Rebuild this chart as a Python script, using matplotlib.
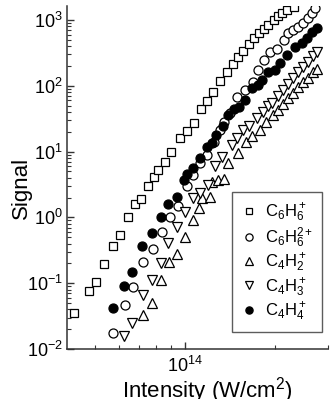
import numpy as np
import matplotlib
matplotlib.use('Agg')
import matplotlib.pyplot as plt

plt.rcParams['font.family'] = ['Liberation Sans', 'DejaVu Sans']
plt.rcParams['mathtext.fontset'] = 'custom'
plt.rcParams['mathtext.rm'] = 'Liberation Sans'
plt.rcParams['mathtext.it'] = 'Liberation Sans:italic'
plt.rcParams['mathtext.bf'] = 'Liberation Sans:bold'

# intensity in units of 1e14 W/cm^2, signal in arb. units
c6h6_x = [0.425, 0.477, 0.504, 0.536, 0.574, 0.606, 0.645, 0.681, 0.713, 0.752, 0.787, 0.812,
          0.857, 0.898, 0.962, 1.016, 1.072, 1.131, 1.185, 1.240, 1.309, 1.381, 1.447, 1.504,
          1.563, 1.637, 1.702, 1.768, 1.837, 1.895, 1.985, 2.047, 2.110, 2.193, 2.315]
c6h6_y = [0.0352, 0.076, 0.104, 0.196, 0.367, 0.541, 1.01, 1.60, 1.90, 3.0, 4.11, 5.25,
          6.95, 9.86, 16.1, 20.6, 27.2, 44.4, 58.7, 80.5, 118, 162, 214, 274,
          338, 432, 532, 634, 730, 839, 1000, 1150, 1277, 1419, 1577]

c6h6_2_x = [0.574, 0.630, 0.670, 0.724, 0.782, 0.838, 0.891, 0.947, 1.016, 1.064, 1.122, 1.185,
            1.250, 1.309, 1.350, 1.414, 1.492, 1.587, 1.688, 1.754, 1.837, 1.924, 2.031, 2.144,
            2.211, 2.297, 2.387, 2.481, 2.579, 2.659, 2.721]
c6h6_2_y = [0.0175, 0.0467, 0.0875, 0.210, 0.331, 0.600, 1.01, 1.49, 3.00, 4.41, 6.71, 8.88,
            14.0, 21.3, 28.2, 38.6, 67.6, 86.3, 114, 174, 247, 326, 362, 497,
            634, 705, 783, 900, 1072, 1277, 1521]

c4h2_x = [0.724, 0.776, 0.831, 0.884, 0.940, 1.0, 1.064, 1.114, 1.140, 1.212, 1.231, 1.289,
          1.350, 1.392, 1.504, 1.600, 1.675, 1.782, 1.866, 1.969, 2.047, 2.127, 2.211, 2.297,
          2.387, 2.481, 2.579, 2.680, 2.764]
c4h2_y = [0.0329, 0.0500, 0.112, 0.210, 0.278, 0.504, 0.912, 1.39, 1.97, 2.04, 3.45, 3.70,
          3.83, 6.71, 9.52, 14.0, 17.3, 21.3, 28.2, 36.0, 42.9, 52.9, 65.3, 77.8,
          95.9, 114, 131, 162, 180]

c4h3_x = [0.625, 0.665, 0.724, 0.776, 0.831, 0.877, 0.940, 1.0, 1.064, 1.122, 1.194, 1.260,
          1.329, 1.436, 1.492, 1.563, 1.637, 1.741, 1.824, 1.895, 1.954, 2.047, 2.127, 2.211,
          2.297, 2.387, 2.481, 2.579, 2.680, 2.764]
c4h3_y = [0.0158, 0.0248, 0.0662, 0.112, 0.203, 0.408, 0.714, 1.21, 1.97, 2.35, 3.11, 6.04,
          8.28, 12.6, 16.1, 21.3, 24.5, 32.4, 40.0, 49.3, 54.8, 70.0, 86.3, 106,
          131, 162, 193, 230, 284, 326]

c4h4_x = [0.574, 0.625, 0.665, 0.718, 0.776, 0.831, 0.877, 0.940, 0.992, 1.016, 1.064, 1.122,
          1.185, 1.231, 1.270, 1.340, 1.392, 1.458, 1.516, 1.587, 1.675, 1.754, 1.809, 1.895,
          2.0, 2.078, 2.194, 2.333, 2.462, 2.559, 2.659, 2.764]
c4h4_y = [0.0420, 0.0906, 0.148, 0.367, 0.579, 1.01, 1.60, 2.04, 3.70, 4.57, 5.63, 8.00,
          11.7, 13.5, 17.9, 24.5, 36.0, 44.4, 47.6, 60.8, 92.7, 103, 122, 162,
          174, 222, 294, 389, 447, 532, 658, 756]

series = [
    (c6h6_x, c6h6_y, 's', 'white', 6.0, r'C$_6$H$_6^+$'),
    (c6h6_2_x, c6h6_2_y, 'o', 'white', 6.5, r'C$_6$H$_6^{2+}$'),
    (c4h2_x, c4h2_y, '^', 'white', 7.0, r'C$_4$H$_2^+$'),
    (c4h3_x, c4h3_y, 'v', 'white', 7.0, r'C$_4$H$_3^+$'),
    (c4h4_x, c4h4_y, 'o', 'black', 6.5, r'C$_4$H$_4^+$'),
]

fig = plt.figure(figsize=(3.33, 3.99), dpi=100)
ax = fig.add_axes([67 / 333, 1 - 349 / 399, 261 / 333, 343 / 399])

for xs, ys, mk, fc, ms, lab in series:
    ax.plot(np.array(xs) * 1e14, ys, linestyle='none', marker=mk, markersize=ms,
            markerfacecolor=fc, markeredgecolor='black', markeredgewidth=0.9, label=lab)

ax.set_xscale('log')
ax.set_yscale('log')
ax.set_xlim(4.03e13, 3.0e14)
ax.set_ylim(1e-2, 10 ** 3.213)

for s in ['top', 'right']:
    ax.spines[s].set_visible(False)
for s in ['left', 'bottom']:
    ax.spines[s].set_linewidth(1.1)
    ax.spines[s].set_color('#333333')

ax.tick_params(which='both', direction='in', color='#333333', labelsize=13)
ax.tick_params(which='major', length=5, width=1)
ax.tick_params(which='minor', length=3, width=0.8)
ax.tick_params(axis='x', which='major', pad=5)
ax.tick_params(axis='y', which='major', pad=3)
ax.xaxis.set_minor_formatter(matplotlib.ticker.NullFormatter())

fig.text(21 / 333, 1 - 188 / 399, 'Signal', rotation=90, ha='center', va='center', fontsize=16)
fig.text(207 / 333, 1 - 398 / 399, 'Intensity (W/cm$^2$)', ha='center', va='baseline', fontsize=16)

leg = ax.legend(loc='lower right', bbox_to_anchor=(0.977, 0.05), fontsize=12,
                frameon=True, fancybox=False, edgecolor='#333333', markerscale=0.8,
                handlelength=0.9, handletextpad=0.5, labelspacing=0.1, borderpad=0.55,
                borderaxespad=0)
leg.get_frame().set_linewidth(1.0)

fig.savefig('out.png', dpi=100)
